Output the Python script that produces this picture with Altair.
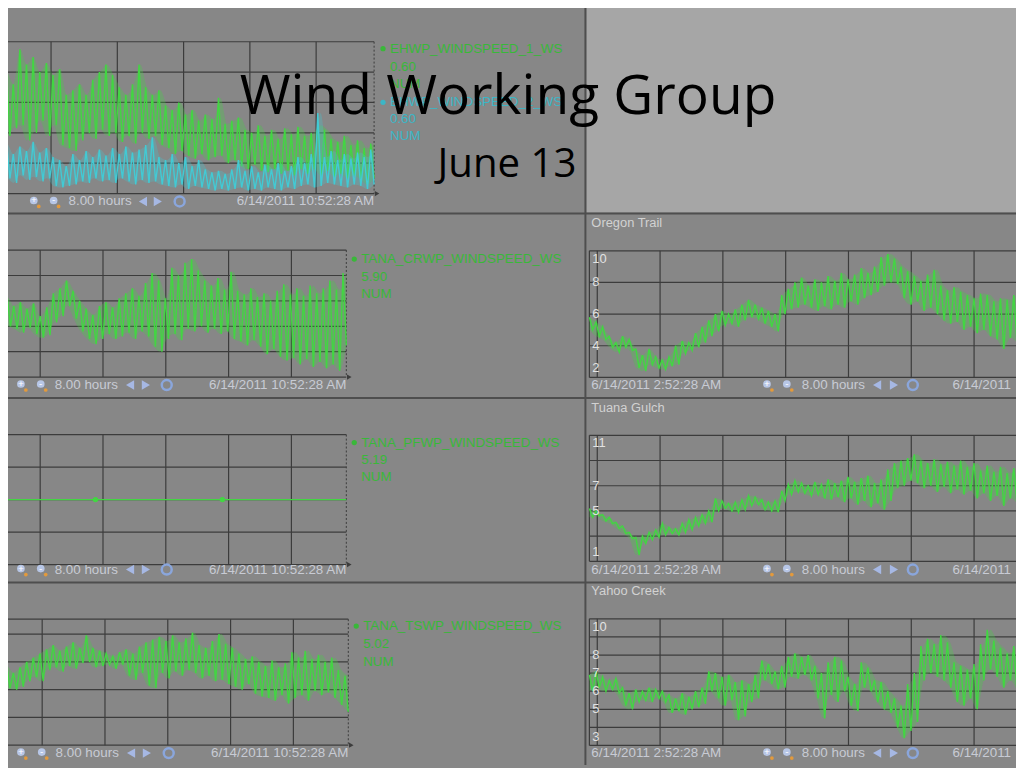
import altair as alt
import numpy as np
import pandas as pd

# ------------------------------------------------------------------ data
START_H = 2 + 52 / 60 + 28 / 3600      # 6/14/2011 2:52:28 AM (hours)
END_H = START_H + 8                    # 10:52:28 AM
HOURS = [3, 4, 5, 6, 7, 8, 9, 10]

# EHWP (top-left), visible part of the 8-hour window; (high, low) swings
ehwp_window = [5.23, END_H]
ehwp1_pairs = [(7.5, 4.0), (8.0, 3.8), (7.2, 4.3), (9.5, 4.5), (8.5, 3.5), (9.0, 4.0), (8.0, 4.8), (8.6, 3.8),
               (7.8, 4.5), (8.2, 3.2), (6.5, 3.0), (6.8, 2.8), (7.2, 3.5), (6.5, 4.0), (7.5, 3.6), (8.0, 4.2),
               (8.5, 3.8), (7.8, 4.0), (7.0, 3.4), (6.5, 3.8), (7.2, 3.3), (8.5, 4.0), (7.0, 3.6), (6.5, 3.8),
               (6.8, 3.2), (5.8, 3.0), (5.5, 2.6), (6.0, 2.8), (5.2, 2.5), (5.5, 2.3), (4.8, 2.6), (5.2, 2.2),
               (4.9, 2.4), (6.3, 2.5), (4.6, 2.0), (4.8, 2.2), (5.0, 1.8), (4.2, 1.6), (4.0, 1.9), (4.5, 1.5),
               (3.8, 1.4), (4.2, 1.6), (3.6, 1.3), (4.3, 1.5), (3.9, 1.2), (4.4, 1.6), (3.8, 1.3), (4.0, 1.6),
               (4.5, 1.2), (4.2, 1.5), (3.6, 1.1), (3.4, 1.3), (3.8, 1.0), (3.2, 1.2), (3.5, 0.9), (3.0, 0.6),
               (3.3, 1.0)]
ehwp2_pairs = [(3.0, 0.8), (3.3, 1.0), (2.6, 0.7), (3.1, 1.2), (2.8, 0.9), (3.4, 1.1), (2.7, 0.8), (3.0, 1.0),
               (2.4, 0.5), (2.2, 0.4), (1.8, 0.5), (2.6, 0.6), (2.2, 0.8), (2.8, 0.7), (2.4, 1.0), (2.9, 0.8),
               (2.5, 0.9), (3.0, 0.7), (2.6, 1.0), (3.1, 0.8), (2.7, 0.6), (2.9, 0.9), (3.2, 0.7), (3.7, 0.8),
               (2.4, 0.6), (2.2, 0.5), (2.6, 0.4), (2.0, 0.6), (2.4, 0.3), (1.8, 0.5), (2.2, 0.4), (1.6, 0.3),
               (1.4, 0.2), (1.5, 0.3), (1.3, 0.2), (1.6, 0.3), (2.2, 0.4), (1.5, 0.2), (1.8, 0.3), (1.4, 0.2),
               (1.9, 0.4), (1.6, 0.3), (2.0, 0.2), (1.5, 0.4), (1.8, 0.3), (2.4, 0.5), (2.0, 0.6), (2.6, 0.4),
               (5.3, 0.5), (2.4, 0.7), (2.8, 0.6), (2.2, 0.5), (2.6, 0.4), (2.3, 0.6), (2.7, 0.5), (2.4, 0.3),
               (2.9, 0.6)]

crwp_window = [5.37, END_H]
crwp_pairs = [(6.0, 4.2), (6.3, 4.0), (5.6, 3.8), (5.9, 3.5), (5.4, 3.9), (5.8, 3.4), (4.8, 3.1), (5.5, 3.3),
              (6.6, 4.3), (7.0, 4.8), (7.6, 5.6), (6.8, 4.6), (6.0, 3.6), (5.4, 3.0), (4.9, 2.6), (5.6, 3.0),
              (5.9, 3.4), (5.5, 3.0), (6.2, 3.2), (6.6, 3.5), (7.0, 3.0), (6.4, 3.6), (7.4, 3.2), (8.2, 2.4),
              (7.6, 2.0), (6.2, 3.0), (8.6, 3.4), (8.0, 2.9), (9.0, 3.8), (9.3, 3.6), (8.4, 4.0), (7.6, 3.5),
              (7.2, 3.8), (7.8, 3.4), (6.9, 3.6), (8.3, 3.0), (6.8, 2.8), (6.5, 2.5), (7.0, 2.9), (6.3, 2.4),
              (6.6, 1.8), (6.0, 2.2), (6.8, 1.6), (7.3, 1.3), (6.5, 1.5), (7.0, 1.0), (6.4, 1.4), (7.2, 0.8),
              (6.6, 1.2), (7.0, 0.7), (7.6, 1.0), (6.9, 0.5), (8.2, 2.5)]

pfwp_window = [5.37, END_H]
pfwp_level = 5.19
pfwp_marks = [6.88, 8.90]

tswp_window = [5.33, END_H]
tswp_pairs = [(5.4, 4.3), (5.7, 4.1), (5.2, 4.0), (5.6, 4.2), (6.0, 4.6), (6.3, 4.9), (6.6, 4.6), (6.9, 5.4),
              (7.2, 5.6), (6.8, 5.3), (7.1, 5.7), (7.4, 5.5), (7.0, 5.9), (7.9, 6.0), (7.0, 5.6), (6.8, 5.7),
              (6.6, 5.8), (6.4, 5.5), (6.7, 5.8), (6.9, 5.0), (6.6, 4.7), (7.1, 5.2), (7.4, 4.3), (7.6, 4.1),
              (7.8, 5.2), (7.5, 4.8), (7.9, 5.3), (7.4, 5.0), (7.7, 5.4), (8.1, 5.2), (7.2, 4.8), (7.0, 5.0),
              (7.5, 4.6), (8.0, 4.7), (7.3, 4.4), (7.0, 4.2), (6.6, 4.0), (6.2, 4.4), (6.4, 3.7), (6.0, 3.5),
              (5.7, 3.4), (6.1, 3.2), (5.6, 3.6), (5.9, 3.0), (6.7, 3.4), (6.3, 3.6), (6.8, 3.2), (6.2, 3.9),
              (6.5, 3.6), (6.0, 3.8), (6.3, 3.4), (5.4, 2.9), (5.0, 2.4)]

site_window = [START_H, START_H + 6.81]
oregon_pairs = [(5.8, 5.0), (5.5, 4.6), (5.2, 4.4), (4.6, 3.9), (4.2, 3.6), (4.6, 3.9), (4.4, 3.7), (3.8, 2.6),
                (3.4, 2.4), (3.8, 2.8), (3.3, 2.6), (3.1, 2.5), (3.3, 2.7), (4.0, 2.8), (4.3, 3.5), (4.2, 3.7),
                (4.8, 3.9), (5.2, 4.2), (5.6, 4.6), (6.0, 4.9), (6.2, 5.3), (6.0, 5.4), (6.3, 5.2), (6.6, 5.6),
                (6.9, 5.8), (6.6, 5.7), (6.4, 5.4), (6.2, 5.2), (6.0, 4.9), (7.2, 6.0), (7.6, 6.3), (8.0, 6.4),
                (8.3, 6.6), (7.8, 6.4), (8.2, 6.2), (8.0, 6.5), (8.4, 6.3), (8.1, 6.6), (8.6, 6.4), (8.2, 6.8),
                (8.5, 6.6), (8.9, 7.0), (8.6, 7.2), (9.0, 7.4), (9.6, 7.8), (9.8, 8.0), (9.5, 7.9), (9.0, 7.0),
                (8.7, 6.6), (8.4, 6.8), (8.1, 6.2), (8.5, 6.4), (8.8, 6.0), (7.8, 5.6), (7.5, 5.4), (7.7, 5.5),
                (7.4, 5.0), (7.2, 5.2), (7.0, 4.8), (7.3, 5.0), (7.2, 4.6), (6.8, 4.4), (7.0, 3.8), (6.9, 4.5),
                (7.2, 4.2)]
tuana_pairs = [(5.2, 4.5), (5.0, 4.6), (4.7, 4.2), (4.5, 4.0), (4.1, 3.6), (3.8, 3.2), (3.3, 2.8), (2.9, 1.5),
               (3.0, 2.4), (3.3, 2.7), (3.5, 2.9), (4.0, 3.1), (3.7, 3.2), (3.6, 3.1), (4.0, 3.3), (4.3, 3.5),
               (4.5, 3.8), (4.7, 4.0), (5.0, 4.1), (6.0, 5.0), (5.8, 5.2), (5.6, 5.0), (5.7, 4.9), (5.9, 5.1),
               (6.2, 5.4), (6.1, 5.5), (5.9, 5.1), (5.7, 5.0), (5.8, 4.9), (6.6, 5.8), (7.1, 6.3), (7.4, 6.5),
               (7.2, 6.4), (7.0, 6.2), (7.3, 6.3), (7.1, 6.0), (7.5, 5.9), (7.2, 6.1), (7.4, 5.7), (7.7, 6.0),
               (7.3, 5.5), (7.6, 5.8), (7.8, 5.3), (7.2, 5.6), (7.5, 5.1), (8.3, 5.8), (8.8, 6.8), (9.0, 7.0),
               (9.2, 7.4), (9.5, 7.2), (9.0, 6.8), (8.8, 7.0), (9.1, 6.5), (8.7, 6.9), (8.9, 6.4), (8.6, 6.7),
               (9.0, 6.3), (8.5, 6.6), (8.8, 6.0), (8.2, 6.4), (8.6, 5.8), (8.1, 6.2), (8.5, 5.4), (8.0, 6.0),
               (8.4, 5.6)]
yahoo_pairs = [(6.9, 6.0), (7.1, 6.2), (6.8, 6.0), (6.6, 6.1), (6.7, 5.9), (6.2, 5.2), (5.9, 5.0), (6.1, 5.4),
               (6.0, 5.5), (6.2, 5.4), (6.1, 5.6), (6.0, 5.4), (5.8, 4.8), (5.6, 4.9), (5.9, 4.7), (5.7, 5.0),
               (6.0, 5.1), (6.2, 5.3), (7.1, 6.0), (7.0, 5.6), (6.8, 5.2), (6.9, 5.5), (6.5, 4.4), (6.6, 4.6),
               (6.4, 5.4), (6.9, 5.6), (7.7, 6.6), (7.5, 6.4), (7.1, 6.1), (7.4, 6.2), (7.9, 6.8), (8.1, 6.7),
               (7.9, 6.9), (8.0, 6.6), (7.4, 5.6), (7.0, 4.5), (7.6, 5.8), (7.9, 5.4), (7.7, 6.0), (6.8, 5.2),
               (6.4, 4.9), (7.6, 6.2), (7.3, 6.0), (6.6, 5.4), (6.5, 5.0), (6.0, 4.8), (5.6, 4.0), (5.2, 3.4),
               (6.4, 3.8), (7.0, 4.3), (8.5, 6.6), (8.9, 7.0), (8.6, 6.8), (9.1, 6.6), (8.7, 6.2), (7.6, 5.4),
               (7.4, 5.2), (7.2, 5.6), (7.5, 5.0), (8.6, 6.6), (9.4, 7.2), (8.8, 6.8), (8.4, 6.2), (8.1, 6.6),
               (8.5, 6.0)]

tag_names = ["EHWP_WINDSPEED_1_WS", "EHWP_WINDSPEED_2_WS", "TANA_CRWP_WINDSPEED_WS",
             "TANA_PFWP_WINDSPEED_WS", "TANA_TSWP_WINDSPEED_WS"]
tag_values = ["0.60", "0.60", "5.90", "5.19", "5.02"]
tag_unit = "NUM"
site_names = ["Oregon Trail", "Tuana Gulch", "Yahoo Creek"]
site_domains = [[2, 10], [1, 11], [3, 10]]
site_grid = [[2, 4, 6, 8, 10], [1, 3, 5, 7, 9, 11], [3, 4, 5, 6, 7, 8, 9, 10]]
site_labels = [["10", "8", "6", "4", "2"], ["11", "7", "5", "1"], ["10", "8", "7", "6", "5", "3"]]
window_label = "8.00 hours"
end_stamp = "6/14/2011 10:52:28 AM"
start_stamp = "6/14/2011 2:52:28 AM"
end_stamp_short = "6/14/2011"
title_text = "Wind Working Group"
subtitle_text = "June 13"

# ------------------------------------------------------------------ style
M = 8  # page margin
PANEL = "#878787"
LIGHT = "#a6a6a6"
GRID = "#3c3c3c"
BORDER = "#4e4e4e"
GREEN = "#42d642"
CYAN = "#42cad4"
LEG_GREEN = "#39b839"
LEG_CYAN = "#3cb6c6"
UI = "#c8cbd4"
LAB = "#e2e2e2"
UIFONT = "Liberation Sans"

ONE = pd.DataFrame({"k": [0]})


def P(v):
    return v - M


def txt(s, x, y, color, size=13.5, align="left", baseline="middle", font=UIFONT):
    return alt.Chart(ONE).mark_text(text=s, color=color, fontSize=size, align=align,
                                    baseline=baseline, font=font).encode(
        x=alt.value(P(x)), y=alt.value(P(y)))


def rule(x1, y1, x2, y2, color=GRID, w=1.2, dash=None):
    kw = dict(color=color, strokeWidth=w)
    if dash:
        kw["strokeDash"] = dash
    return alt.Chart(ONE).mark_rule(**kw).encode(
        x=alt.value(P(x1)), x2=alt.value(P(x2)), y=alt.value(P(y1)), y2=alt.value(P(y2)))


def box(x1, y1, x2, y2, color):
    return alt.Chart(ONE).mark_rect(color=color).encode(
        x=alt.value(P(x1)), x2=alt.value(P(x2)), y=alt.value(P(y1)), y2=alt.value(P(y2)))


def dot(x, y, color, size=30, shape="circle", filled=True, sw=None):
    kw = dict(shape=shape, size=size, color=color, filled=filled, opacity=1)
    if sw:
        kw["strokeWidth"] = sw
    return alt.Chart(ONE).mark_point(**kw).encode(x=alt.value(P(x)), y=alt.value(P(y)))


def xscale(right_px, pph):
    return alt.Scale(domain=[START_H, END_H], range=[P(right_px - 8 * pph), P(right_px)],
                     zero=False, nice=False)


def yscale(dom, bottom, top):
    return alt.Scale(domain=list(dom), range=[P(bottom), P(top)], zero=False, nice=False)


def series(pairs, window, xs, ys, color, w=1.4):
    out = []
    band = pd.DataFrame({"h": np.linspace(window[0], window[1], len(pairs)),
                         "hi": [p[0] for p in pairs], "lo": [p[1] for p in pairs]})
    out.append(alt.Chart(band).mark_area(color=color, opacity=0.28, interpolate="monotone").encode(
        x=alt.X("h:Q", scale=xs, axis=None), y=alt.Y("hi:Q", scale=ys, axis=None), y2="lo:Q"))
    vals = [v for p in pairs for v in p]
    df = pd.DataFrame({"h": np.linspace(window[0], window[1], len(vals)), "v": vals})
    out.append(alt.Chart(df).mark_line(color=color, strokeWidth=w).encode(
        x=alt.X("h:Q", scale=xs, axis=None), y=alt.Y("v:Q", scale=ys, axis=None)))
    return out


def hgrid(levels, ys, x1, x2):
    return alt.Chart(pd.DataFrame({"v": levels})).mark_rule(color=GRID, strokeWidth=1.2).encode(
        y=alt.Y("v:Q", scale=ys, axis=None), x=alt.value(P(x1)), x2=alt.value(P(x2)))


def vgrid(hours, xs, top, bottom):
    return alt.Chart(pd.DataFrame({"h": hours})).mark_rule(color=GRID, strokeWidth=1.2).encode(
        x=alt.X("h:Q", scale=xs, axis=None), y=alt.value(P(top)), y2=alt.value(P(bottom)))


def toolbar(y, icons, label_x, tris, refresh_x):
    out = []
    for i, ix in enumerate(icons):
        out.append(dot(ix, y - 1, "#b7c6e6", size=60))
        out.append(txt("+" if i == 0 else "-", ix, y - 1, "#ffffff", size=10, align="center"))
        out.append(dot(ix + 5, y + 5, "#e39a3c", size=14))
    out.append(txt(window_label, label_x, y, UI))
    out.append(dot(tris[0], y, "#a6b8e4", size=90, shape="triangle-left"))
    out.append(dot(tris[1], y, "#a6b8e4", size=90, shape="triangle-right"))
    out.append(dot(refresh_x, y, "#8aa6dc", size=100, filled=False, sw=2.5))
    return out


layers = []

# ------------------------------------------------------------------ panel backgrounds
layers.append(box(591, 0, 1024, 211, LIGHT))

# ------------------------------------------------------------------ left panels
left_cfg = [
    dict(right=377, pph=66.8, top=39, bottom=192, dom=(0, 10), grid=[0, 2, 4, 6, 8, 10],
         ty=200, icons=(34, 54), label_x=69, tris=(144, 159), refresh=181, leg_x=386,
         leg=[(tag_names[0], LEG_GREEN, True, 46), (tag_values[0], LEG_GREEN, False, 64),
              (tag_unit, LEG_GREEN, False, 82), (tag_names[1], LEG_CYAN, True, 100),
              (tag_values[1], LEG_CYAN, False, 117), (tag_unit, LEG_CYAN, False, 134)],
         lines=[(ehwp1_pairs, ehwp_window, GREEN), (ehwp2_pairs, ehwp_window, CYAN)]),
    dict(right=349, pph=63.3, top=249, bottom=377, dom=(0, 10), grid=[0, 2, 4, 6, 8, 10],
         ty=385, icons=(21, 41), label_x=55, tris=(131, 147), refresh=168, leg_x=357,
         leg=[(tag_names[2], LEG_GREEN, True, 258), (tag_values[2], LEG_GREEN, False, 276),
              (tag_unit, LEG_GREEN, False, 293)],
         lines=[(crwp_pairs, crwp_window, GREEN)]),
    dict(right=349, pph=63.3, top=435, bottom=566, dom=(3.19, 7.19), grid=[3.19, 4.19, 5.19, 6.19, 7.19],
         ty=571, icons=(21, 41), label_x=55, tris=(131, 147), refresh=168, leg_x=357,
         leg=[(tag_names[3], LEG_GREEN, True, 443), (tag_values[3], LEG_GREEN, False, 461),
              (tag_unit, LEG_GREEN, False, 478)],
         lines=[]),
    dict(right=351, pph=63.3, top=621, bottom=748, dom=(0, 9.07), grid=[0, 2, 4, 6, 8, 9.07],
         ty=756, icons=(21, 42), label_x=56, tris=(132, 148), refresh=170, leg_x=359,
         leg=[(tag_names[4], LEG_GREEN, True, 628), (tag_values[4], LEG_GREEN, False, 646),
              (tag_unit, LEG_GREEN, False, 664)],
         lines=[(tswp_pairs, tswp_window, GREEN)]),
]

for i, c in enumerate(left_cfg):
    xs = xscale(c["right"], c["pph"])
    ys = yscale(c["dom"], c["bottom"], c["top"])
    layers.append(hgrid(c["grid"], ys, 0, c["right"]))
    layers.append(vgrid([h for h in HOURS if h >= 6], xs, c["top"], c["bottom"]))
    layers.append(rule(c["right"], c["top"], c["right"], c["bottom"], GRID, 1, [2, 2]))
    layers.append(dot(c["right"] + 3, c["bottom"], GRID, size=28, shape="triangle-right"))
    for pairs, win, col in c["lines"]:
        layers += series(pairs, win, xs, ys, col)
    if i == 2:
        flat = pd.DataFrame({"h": pfwp_window, "v": [pfwp_level, pfwp_level]})
        layers.append(alt.Chart(flat).mark_line(color=GREEN, strokeWidth=1.2).encode(
            x=alt.X("h:Q", scale=xs, axis=None), y=alt.Y("v:Q", scale=ys, axis=None)))
        pts = pd.DataFrame({"h": pfwp_marks, "v": [pfwp_level] * len(pfwp_marks)})
        layers.append(alt.Chart(pts).mark_point(color=GREEN, filled=True, size=30, opacity=1).encode(
            x=alt.X("h:Q", scale=xs, axis=None), y=alt.Y("v:Q", scale=ys, axis=None)))
    for s, col, has_dot, y in c["leg"]:
        if has_dot:
            layers.append(dot(c["leg_x"], y, col, size=28))
        layers.append(txt(s, c["leg_x"] + 7, y, col))
    layers += toolbar(c["ty"], c["icons"], c["label_x"], c["tris"], c["refresh"])
    layers.append(txt(end_stamp, c["right"], c["ty"], UI, align="right"))

# ------------------------------------------------------------------ right panels
right_cfg = [
    dict(top=249.7, bottom=377.3, title_y=222, ty=385, pairs=oregon_pairs),
    dict(top=435.7, bottom=562.7, title_y=408, ty=571, pairs=tuana_pairs),
    dict(top=620.7, bottom=748.3, title_y=593, ty=756, pairs=yahoo_pairs),
]
R_LEFT, R_PPH = 594, 63.3
for i, c in enumerate(right_cfg):
    xs = xscale(R_LEFT + 8 * R_PPH, R_PPH)
    dom = site_domains[i]
    ys = yscale(dom, c["bottom"], c["top"])
    layers.append(hgrid(site_grid[i], ys, R_LEFT, 1030))
    layers.append(vgrid(HOURS, xs, c["top"], c["bottom"]))
    layers.append(rule(R_LEFT, c["top"], R_LEFT, c["bottom"], GRID, 1.2))
    layers += series(c["pairs"], site_window, xs, ys, GREEN)
    labs = site_labels[i]
    vals = [float(v) for v in labs]
    lab_df = pd.DataFrame({"v": vals, "t": labs})
    top_df = lab_df[lab_df.v == dom[1]]
    bot_df = lab_df[lab_df.v == dom[0]]
    mid_df = lab_df[(lab_df.v != dom[0]) & (lab_df.v != dom[1])]
    for df, base, dy in [(top_df, "top", 2), (mid_df, "middle", 0), (bot_df, "bottom", -2)]:
        layers.append(alt.Chart(df).mark_text(color=LAB, fontSize=13, font=UIFONT, align="left",
                                              baseline=base, dy=dy).encode(
            x=alt.value(P(R_LEFT + 3)), y=alt.Y("v:Q", scale=ys, axis=None), text="t:N"))
    layers.append(txt(site_names[i], R_LEFT + 2, c["title_y"], "#d2d2d2", size=13))
    layers.append(txt(start_stamp, R_LEFT + 2, c["ty"], UI))
    layers += toolbar(c["ty"], (773, 793), 808, (884, 901), 920)
    layers.append(txt(end_stamp_short, 960, c["ty"], UI))

# ------------------------------------------------------------------ dividers
layers.append(rule(0, 2, 590, 2, BORDER, 1.5))
layers.append(rule(590, 0, 590, 768, BORDER, 2))
for yy in (212, 398, 584):
    layers.append(rule(0, yy, 1024, yy, BORDER, 2))

# ------------------------------------------------------------------ slide title
layers.append(txt(title_text, 512, 112, "#000000", size=55.5, align="center",
                  baseline="alphabetic", font="Open Sans"))
layers.append(txt(subtitle_text, 511, 175, "#000000", size=40.5, align="center",
                  baseline="alphabetic", font="Open Sans"))

chart = alt.layer(*layers).resolve_scale(x="independent", y="independent").properties(
    width=1016, height=760, padding=0, background=PANEL,
    autosize=alt.AutoSizeParams(type="none"),
).configure_view(strokeWidth=0)

chart.save("out.html", embed_options={"renderer": "svg", "actions": False})
